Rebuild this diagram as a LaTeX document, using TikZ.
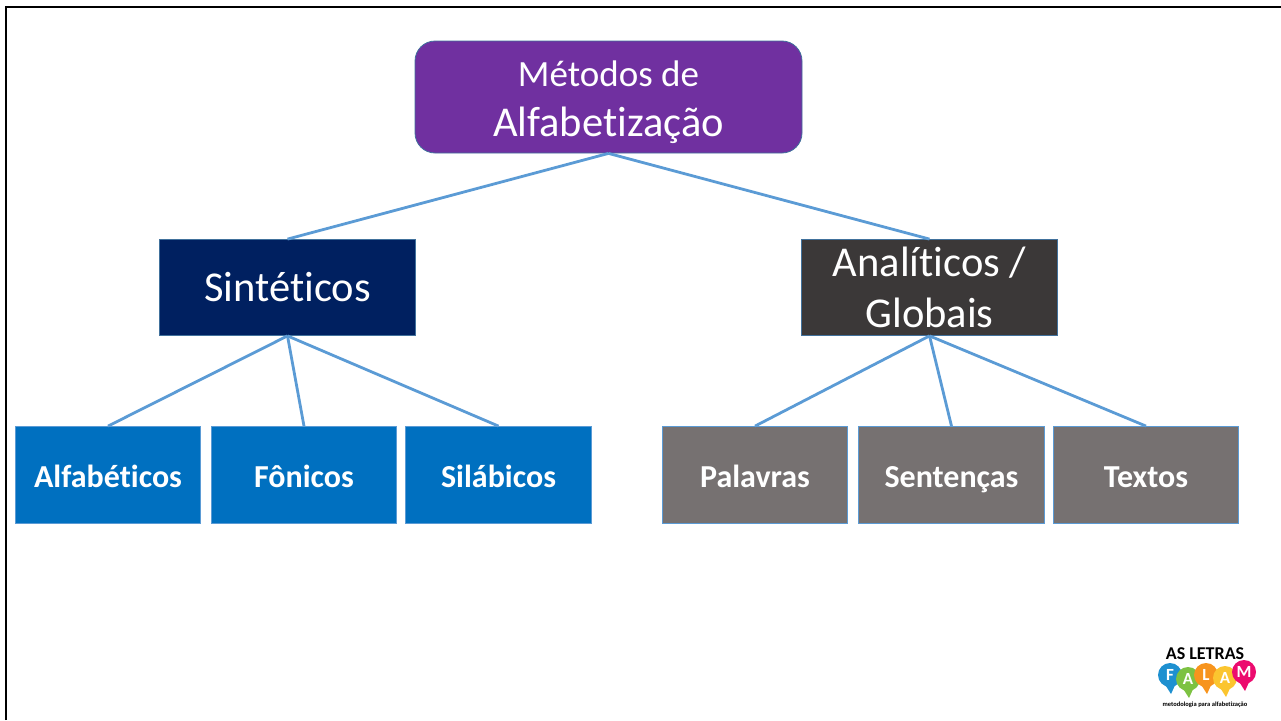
\documentclass[tikz,border=0pt]{standalone}
\usepackage{fontspec}
\setmainfont{Carlito}[Ligatures=NoCommon]
\usepackage{tikz}
\usetikzlibrary{calc}

\definecolor{linkblue}{HTML}{5B9BD5}
\definecolor{edgeblue}{HTML}{41719C}
\definecolor{roxo}{HTML}{7030A0}
\definecolor{marinho}{HTML}{002060}
\definecolor{grafite}{HTML}{3B3838}
\definecolor{azul}{HTML}{0070C0}
\definecolor{cinza}{HTML}{767171}
\definecolor{balaoazul}{HTML}{1E90D0}
\definecolor{balaoverde}{HTML}{7DC242}
\definecolor{balaolaranja}{HTML}{F7941D}
\definecolor{balaoamarelo}{HTML}{FBC52F}
\definecolor{balaorosa}{HTML}{EC0B6E}

\tikzset{
    box/.style={draw=edgeblue,line width=0.8pt,text=white,align=center,inner sep=0pt},
    small box/.style={box,draw=linkblue,fill=#1,minimum width=185.5pt,minimum height=97pt,text height=24pt,text depth=0pt,font=\fontsize{32}{38}\selectfont\bfseries},
    mid box/.style={box,fill=#1,minimum width=256pt,minimum height=96pt,font=\fontsize{42.5}{51}\selectfont},
    link/.style={linkblue,line width=2.8pt},
    balloon/.style={circle,fill=#1,inner sep=0pt,minimum size=24pt,text=white,font=\fontsize{17}{17}\selectfont\bfseries},
}

\begin{document}
\begin{tikzpicture}[x=1pt,y=-1pt]
                \useasboundingbox (0,0) rectangle (1281,720);
                \draw[line width=2.5pt] (6,720) -- (6,7) -- (1281,7);  % Frame

                \node[box,fill=roxo,rounded corners=20pt,minimum width=387pt,minimum height=112pt,font=\fontsize{42.5}{50}\selectfont] (metodos) at (608.5,97) 
                    {\rule{0pt}{36pt}{\fontsize{37}{50}\selectfont Métodos de}\\Alfabetização};

                \node[mid box=marinho] (sinteticos) at (287.5,287.5) {Sintéticos};
                \node[mid box=grafite] (analiticos) at (929.5,287.5) {Analíticos /\\Globais};

                \node[small box=azul] (alfabeticos) at (108,475) {Alfabéticos};
                \node[small box=azul] (fonicos) at (304,475) {Fônicos};
                \node[small box=azul] (silabicos) at (498.5,475) {Silábicos};

                \node[small box=cinza] (palavras) at (755,475) {Palavras};
                \node[small box=cinza] (sentencas) at (951.5,475) {Sentenças};
                \node[small box=cinza] (textos) at (1146,475) {Textos};

                \foreach \child in {sinteticos,analiticos} {
                    \draw[link] (metodos.south) -- (\child.north);
                }
                \foreach \child in {alfabeticos,fonicos,silabicos} {
                    \draw[link] (sinteticos.south) -- (\child.north);
                }
                \foreach \child in {palavras,sentencas,textos} {
                    \draw[link] (analiticos.south) -- (\child.north);
                }

                % Logo
                \node[font=\fontsize{18}{18}\selectfont\bfseries] (letras) at (1205,654) {AS LETRAS};
                \foreach \name/\x/\y/\col/\txt in {
                    balao1/1170/675/balaoazul/F,
                    balao2/1188/679/balaoverde/A,
                    balao3/1206/675/balaolaranja/L,
                    balao4/1225/678/balaoamarelo/A,
                    balao5/1244/672/balaorosa/M} {
                    \fill[\col] (\x-6,\y+8) -- (\x+1,\y+19) -- (\x+6,\y+8) -- cycle;
                    \node[balloon=\col] (\name) at (\x,\y) {\txt};
                }
                \node[font=\fontsize{6.5}{7}\selectfont\bfseries] (lema) at (1205,705) {metodologia para alfabetização};
\end{tikzpicture}
\end{document}
